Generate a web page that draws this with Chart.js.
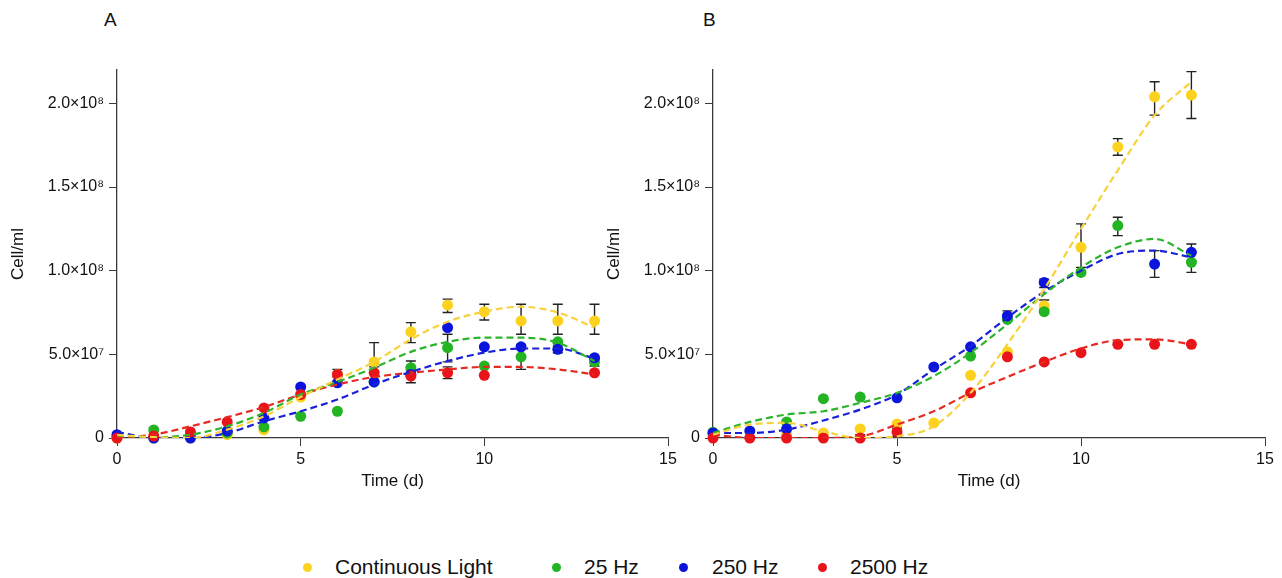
<!DOCTYPE html>
<html>
<head>
<meta charset="utf-8">
<script src="https://cdn.jsdelivr.net/npm/chart.js@4.4.1/dist/chart.umd.min.js"></script>
<style>
  html, body { margin: 0; padding: 0; background: #fff; }
  body {
    width: 1282px; height: 578px; position: relative; overflow: hidden;
    font-family: "Liberation Sans", Arial, sans-serif; color: #111;
  }
  canvas { position: absolute; top: 50px; }
  #chartA { left: 0; }
  #chartB { left: 596px; }
  .tag { position: absolute; top: 9px; font-size: 19px; }
  .item { position: absolute; top: 554px; font-size: 21px; line-height: 26px; white-space: nowrap; }
  .dot { position: absolute; top: 563px; width: 9px; height: 9px; border-radius: 50%; }
</style>
</head>
<body>
<div class="tag" style="left:104px">A</div>
<div class="tag" style="left:703px">B</div>

<canvas id="chartA" width="690" height="450"></canvas>
<canvas id="chartB" width="686" height="450"></canvas>

<span class="dot" style="left:303px;background:#FDD21E"></span>
<span class="item" style="left:335px">Continuous Light</span>
<span class="dot" style="left:552px;background:#22B422"></span>
<span class="item" style="left:584px">25 Hz</span>
<span class="dot" style="left:679px;background:#0A14DC"></span>
<span class="item" style="left:712px">250 Hz</span>
<span class="dot" style="left:818px;background:#E8141A"></span>
<span class="item" style="left:850px">2500 Hz</span>

<script>
'use strict'

const days = [0, 1, 2, 3, 4, 5, 6, 7, 8, 9, 10, 11, 12, 13]

const xTickValues = [0, 5, 10, 15]
const yTickValues = [0, 5e7, 1e8, 1.5e8, 2e8]
const yTickLabels = ['0', '5.0×10⁷', '1.0×10⁸', '1.5×10⁸', '2.0×10⁸']

const seriesNames = ['Continuous Light', '25 Hz', '250 Hz', '2500 Hz']
const seriesColors = ['#FDD21E', '#22B422', '#0A14DC', '#E8141A']
const fitColors = ['#F7D23C', '#2DB42D', '#1A22D6', '#E52A22']

// panel A - measured points (null = hidden under another marker)
const aContinuous = [0, 0, 0, 2e6, 4.8e6, 2.45e7, 3.8e7, 4.55e7, 6.35e7, 7.95e7, 7.55e7, 7.0e7, 7.0e7, 7.0e7]
const a25Hz = [1e6, 4.8e6, 1.8e6, 3e6, 6.6e6, 1.3e7, 1.6e7, 3.35e7, 4.2e7, 5.4e7, 4.3e7, 4.85e7, 5.75e7, 4.55e7]
const a250Hz = [2e6, 0, 0, 4.2e6, 1.2e7, 3.05e7, 3.3e7, 3.35e7, 3.8e7, 6.6e7, 5.45e7, 5.45e7, 5.3e7, 4.8e7]
const a2500Hz = [0, 1.2e6, 3.6e6, 9.6e6, 1.8e7, 2.6e7, 3.8e7, 3.9e7, 3.7e7, 3.9e7, 3.75e7, null, null, 3.9e7]

// panel A - fitted curves, read at each day
const aContinuousFit = [1.8e6, 5e5, 0, 5e6, 1.3e7, 2.45e7, 3.5e7, 4.55e7, 5.9e7, 6.95e7, 7.55e7, 7.85e7, 7.5e7, 6.6e7]
const a25HzFit = [1.5e6, 5e5, 2e6, 7e6, 1.5e7, 2.6e7, 3.35e7, 4.2e7, 5.15e7, 5.75e7, 6.0e7, 6.0e7, 5.7e7, 4.6e7]
const a250HzFit = [3.6e6, 0, 0, 3e6, 1e7, 1.6e7, 2.3e7, 3.2e7, 3.95e7, 4.6e7, 5.1e7, 5.35e7, 5.35e7, 4.75e7]
const a2500HzFit = [0, 2e6, 7e6, 1.25e7, 1.85e7, 2.6e7, 3.2e7, 3.65e7, 3.9e7, 4.1e7, 4.25e7, 4.25e7, 4.1e7, 3.8e7]

// panel A - error bars [day, low, high]
const aContinuousErr = [[7, 4.25e7, 5.7e7], [8, 5.7e7, 6.9e7], [9, 7.5e7, 8.3e7], [10, 7.05e7, 8.0e7],
  [11, 6.2e7, 8.0e7], [12, 6.2e7, 8.0e7], [13, 6.2e7, 8.0e7]]
const a25HzErr = [[8, 4.0e7, 4.6e7], [9, 4.55e7, 6.2e7], [11, 4.1e7, 5.6e7], [13, 4.3e7, 4.8e7]]
const a250HzErr = [[12, 5.1e7, 5.5e7]]
const a2500HzErr = [[6, 3.65e7, 4.1e7], [8, 3.3e7, 4.1e7], [9, 3.55e7, 4.25e7]]

// panel B - measured points
const bContinuous = [2e6, null, 2.4e6, 3e6, 5.4e6, 8.4e6, 9e6, 3.75e7, 5.15e7, 7.9e7, 1.14e8, 1.74e8, 2.04e8, 2.05e8]
const b25Hz = [3.5e6, null, 9.6e6, 2.35e7, 2.45e7, null, null, 4.9e7, 7.1e7, 7.55e7, 9.9e7, 1.27e8, null, 1.05e8]
const b250Hz = [3e6, 4.2e6, 5.4e6, null, null, 2.4e7, 4.25e7, 5.45e7, 7.3e7, 9.3e7, null, null, 1.04e8, 1.11e8]
const b2500Hz = [0, 0, 0, 0, 0, 3.6e6, null, 2.7e7, 4.85e7, 4.55e7, 5.1e7, 5.6e7, 5.6e7, 5.6e7]

// panel B - fitted curves
const bContinuousFit = [2e6, 8e6, 9e6, 4e6, 0, 1e6, 7e6, 2.7e7, 5.6e7, 8.9e7, 1.25e8, 1.6e8, 1.93e8, 2.13e8]
const b25HzFit = [3e6, 9.6e6, 1.4e7, 1.6e7, 2.1e7, 2.7e7, 3.7e7, 5.1e7, 6.8e7, 8.6e7, 1.02e8, 1.14e8, 1.19e8, 1.09e8]
const b250HzFit = [3e6, 3e6, 5e6, 1.05e7, 1.7e7, 2.6e7, 4.1e7, 5.5e7, 7.2e7, 8.75e7, 1.0e8, 1.1e8, 1.12e8, 1.08e8]
const b2500HzFit = [2e6, 0, 0, 0, 1e6, 8e6, 1.6e7, 2.7e7, 3.65e7, 4.55e7, 5.35e7, 5.85e7, 5.9e7, 5.6e7]

// panel B - error bars
const bContinuousErr = [[9, 7.7e7, 8.25e7], [10, 1.02e8, 1.28e8], [11, 1.69e8, 1.79e8], [12, 1.93e8, 2.13e8], [13, 1.91e8, 2.19e8]]
const b25HzErr = [[11, 1.21e8, 1.32e8], [13, 0.99e8, 1.11e8]]
const b250HzErr = [[8, 7.0e7, 7.6e7], [9, 9.0e7, 9.5e7], [12, 0.96e8, 1.12e8], [13, 1.06e8, 1.16e8]]
const b2500HzErr = [[4, 0, 2e6], [5, 1e6, 6e6]]

const axisColor = '#3a3a3a'
const textColor = '#111'

const toPoints = values => days
  .map((d, i) => ({ x: d, y: values[i] }))
  .filter(p => p.y !== null)

// whiskers drawn under the markers
const errorBars = {
  id: 'errorBars',
  beforeDatasetsDraw: function(chart) {
    const { ctx, scales: { x, y } } = chart
    ctx.save()
    ctx.strokeStyle = '#222'
    ctx.lineWidth = 1.4
    chart.data.datasets.forEach(ds => {
      (ds.errors || []).forEach(([d, lo, hi]) => {
        const px = x.getPixelForValue(d)
        const top = y.getPixelForValue(hi)
        const bot = y.getPixelForValue(lo)
        ctx.beginPath()
        ctx.moveTo(px, top); ctx.lineTo(px, bot)
        ctx.moveTo(px - 5, top); ctx.lineTo(px + 5, top)
        ctx.moveTo(px - 5, bot); ctx.lineTo(px + 5, bot)
        ctx.stroke()
      })
    })
    ctx.restore()
  }
}

function makePanel(id, points, fits, errors, rightPad) {
  const datasets = []

  fits.forEach((fit, i) => {
    datasets.push({
      label: seriesNames[i] + ' fit',
      data: toPoints(fit),
      showLine: true,
      borderColor: fitColors[i],
      borderWidth: 2.2,
      borderDash: [7, 4],
      pointRadius: 0,
      cubicInterpolationMode: 'monotone',
      order: i
    })
  })

  points.forEach((pts, i) => {
    datasets.push({
      label: seriesNames[i],
      data: toPoints(pts),
      errors: errors[i],
      backgroundColor: seriesColors[i],
      pointRadius: 5.5,
      pointBorderWidth: 0,
      clip: false,
      order: 10 - i
    })
  })

  return new Chart(document.getElementById(id).getContext('2d'), {
    type: 'scatter',
    data: { datasets },
    options: {
      responsive: false,
      animation: false,
      layout: { padding: { top: 20, right: rightPad, left: 0, bottom: 0 } },
      plugins: { legend: { display: false }, tooltip: { enabled: false } },
      scales: {
        x: {
          type: 'linear',
          min: 0,
          max: 15,
          afterBuildTicks: s => { s.ticks = xTickValues.map(v => ({ value: v })) },
          afterFit: s => { s.height = 62 },
          ticks: {
            color: textColor,
            padding: 4,
            font: { family: 'Liberation Sans', size: 16 },
            callback: v => String(v)
          },
          grid: { drawOnChartArea: false, tickLength: 8, color: axisColor },
          border: { color: axisColor, width: 1.3 },
          title: {
            display: true,
            text: 'Time (d)',
            color: textColor,
            font: { family: 'Liberation Sans', size: 17 },
            padding: { top: 0, bottom: 8 }
          }
        },
        y: {
          min: 0,
          max: 2.2e8,
          afterBuildTicks: s => { s.ticks = yTickValues.map(v => ({ value: v })) },
          afterFit: s => { s.width = 117 },
          ticks: {
            color: textColor,
            padding: 5,
            font: { family: 'Liberation Sans', size: 16 },
            callback: v => yTickLabels[yTickValues.indexOf(v)]
          },
          grid: { drawOnChartArea: false, tickLength: 8, color: axisColor },
          border: { color: axisColor, width: 1.3 },
          title: {
            display: true,
            text: 'Cell/ml',
            color: textColor,
            font: { family: 'Liberation Sans', size: 17 },
            padding: { top: 8, bottom: 0 }
          }
        }
      }
    },
    plugins: [errorBars]
  })
}

makePanel('chartA',
  [aContinuous, a25Hz, a250Hz, a2500Hz],
  [aContinuousFit, a25HzFit, a250HzFit, a2500HzFit],
  [aContinuousErr, a25HzErr, a250HzErr, a2500HzErr],
  22)

makePanel('chartB',
  [bContinuous, b25Hz, b250Hz, b2500Hz],
  [bContinuousFit, b25HzFit, b250HzFit, b2500HzFit],
  [bContinuousErr, b25HzErr, b250HzErr, b2500HzErr],
  17)
</script>
</body>
</html>
